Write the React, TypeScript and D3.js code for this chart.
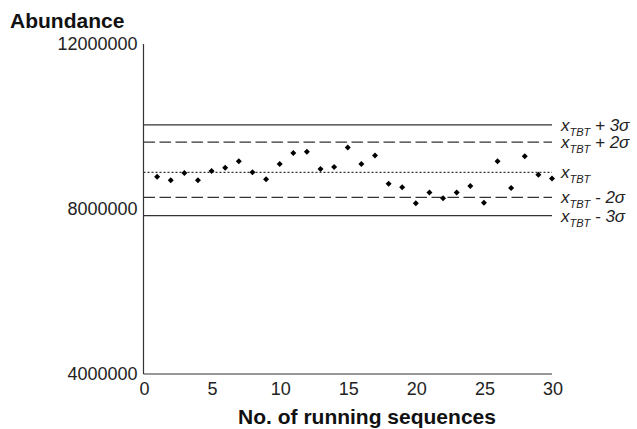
import * as d3 from "d3";

// running sequence number and abundance
const runs = [
  1, 2, 3, 4, 5, 6, 7, 8, 9, 10, 11, 12, 13, 14, 15, 16, 17, 18, 19, 20, 21,
  22, 23, 24, 25, 26, 27, 28, 29, 30,
];
const abundance = [
  8780000, 8700000, 8870000, 8700000, 8920000, 9000000, 9160000, 8890000,
  8720000, 9090000, 9360000, 9390000, 8970000, 9020000, 9490000, 9090000,
  9300000, 8610000, 8530000, 8140000, 8400000, 8260000, 8400000, 8560000,
  8150000, 9160000, 8510000, 9280000, 8830000, 8740000,
];

// control limits: x_TBT and +/- 2 and 3 sigma
const limitNames = ["+3", "+2", "mean", "-2", "-3"];
const limitValues = [10040000, 9620000, 8890000, 8280000, 7840000];
const limitSuffix = [" + 3σ", " + 2σ", "", " - 2σ", " - 3σ"];
const limitStyle = ["solid", "dashed", "dotted", "dashed", "solid"];

const yTicks = [4000000, 8000000, 12000000];
const xTicks = [0, 5, 10, 15, 20, 25, 30];

const W = 637;
const H = 429;
const FONT = "'Liberation Sans', Arial, Helvetica, sans-serif";

export default function App() {
  const x = d3.scaleLinear().domain([0, 30]).range([143.5, 552]);
  const y = d3.scaleLinear().domain([4000000, 12000000]).range([374, 44]);

  const diamond = d3.symbol().type(d3.symbolSquare).size(18)();

  const dash = (s: string) =>
    s === "dashed" ? "11.5,4.5" : s === "dotted" ? "2,2" : undefined;

  return (
    <svg
      width={W}
      height={H}
      style={{ position: "absolute", left: 0, top: 0, background: "#fff" }}
      fontFamily={FONT}
    >
      {/* axes */}
      <line x1={x(0)} y1={y.range()[1]} x2={x(0)} y2={y(4000000)} stroke="#333" strokeWidth={1.2} />
      <line x1={x(0)} y1={y(4000000)} x2={x(30)} y2={y(4000000)} stroke="#333" strokeWidth={1.2} />

      {yTicks.map((t) => (
        <text key={t} x={x(0) - 6} y={y(t) + 6} textAnchor="end" fontSize={18} fill="#222">
          {t}
        </text>
      ))}
      {xTicks.map((t) => (
        <text key={t} x={x(t) + 1} y={y(4000000) + 21} textAnchor="middle" fontSize={18} fill="#222">
          {t}
        </text>
      ))}

      <text x={10} y={28} fontSize={21} fontWeight="bold" fill="#111">
        Abundance
      </text>
      <text x={367} y={424} textAnchor="middle" fontSize={21} fontWeight="bold" fill="#111">
        No. of running sequences
      </text>

      {/* control lines */}
      {limitNames.map((n, i) => (
        <g key={n}>
          <line
            x1={x(0)}
            x2={x(30)}
            y1={y(limitValues[i])}
            y2={y(limitValues[i])}
            stroke="#333"
            strokeWidth={1.3}
            strokeDasharray={dash(limitStyle[i])}
          />
          <text x={x(30) + 9} y={y(limitValues[i]) + 6} fontSize={17} fontStyle="italic" fill="#222">
            <tspan>x</tspan>
            <tspan dy={5} fontSize={11}>TBT</tspan>
            <tspan dy={-5}>{limitSuffix[i]}</tspan>
          </text>
        </g>
      ))}

      {/* points */}
      {runs.map((r, i) => (
        <path
          key={r}
          d={diamond}
          transform={`translate(${x(r)},${y(abundance[i])}) rotate(45)`}
          fill="#000"
        />
      ))}
    </svg>
  );
}
